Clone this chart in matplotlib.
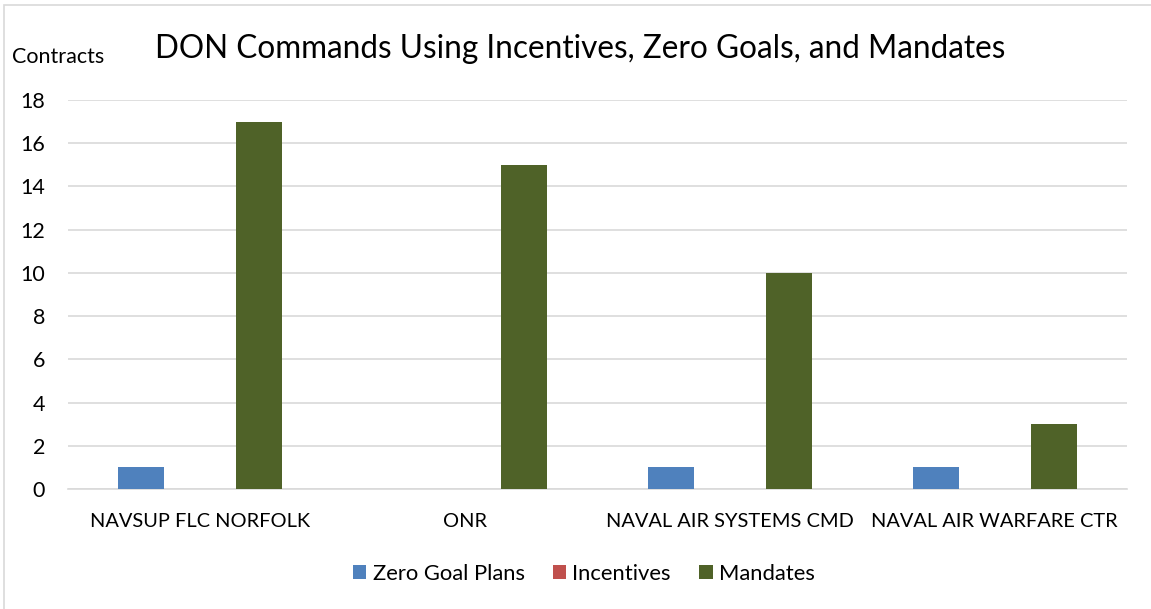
import numpy as np
import matplotlib
matplotlib.use('Agg')
import matplotlib.pyplot as plt
from matplotlib.patches import Rectangle

# ---- data ----
commands = ["NAVSUP FLC NORFOLK", "ONR", "NAVAL AIR SYSTEMS CMD", "NAVAL AIR WARFARE CTR"]
zero_goal = [1, 0, 1, 1]
incentives = [0, 0, 0, 0]
mandates = [17, 15, 10, 3]
series_names = ["Zero Goal Plans", "Incentives", "Mandates"]
series_colors = ["#4f81bd", "#c0504d", "#4f6228"]
yticks = [0, 2, 4, 6, 8, 10, 12, 14, 16, 18]

plt.rcParams['font.family'] = ['Lato', 'DejaVu Sans']

W, H = 1151, 609
fig = plt.figure(figsize=(W / 100, H / 100), dpi=100)

# light outer border (only left/top visible in the original)
fig.patches.append(Rectangle((4 / W, -0.1), 1.2, 1 - 5 / H + 0.1, transform=fig.transFigure,
                             fill=False, edgecolor="#d9d9d9", lw=1.2))

ax = fig.add_axes([68 / W, 1 - 489 / H, (1127 - 68) / W, (489 - 100) / H])

x = np.arange(len(commands))
offset = 0.223
width = 0.174
for i, (vals, name, col) in enumerate(zip([zero_goal, incentives, mandates], series_names, series_colors)):
    ax.bar(x + (i - 1) * offset, vals, width=width, color=col, label=name, zorder=3)

ax.set_xlim(-0.5, len(commands) - 0.5)
ax.set_ylim(0, 18)
ax.set_yticks(yticks)
ax.set_yticklabels([str(v) for v in yticks], fontsize=15.5)
ax.set_xticks(x)
ax.set_xticklabels(commands, fontsize=14.4)
ax.tick_params(axis='both', length=0, colors='black')
ax.tick_params(axis='y', pad=16.5)
ax.tick_params(axis='x', pad=17)
ax.grid(axis='y', color='#d9d9d9', lw=1.2, zorder=0)
for s in ['top', 'right', 'left']:
    ax.spines[s].set_visible(False)
ax.spines['bottom'].set_color('#d9d9d9')
ax.spines['bottom'].set_linewidth(1.2)

fig.text(580 / W, 1 - 48.5 / H, "DON Commands Using Incentives, Zero Goals, and Mandates",
         ha='center', va='center', fontsize=22.7)
fig.text(12 / W, 1 - 57 / H, "Contracts", ha='left', va='center', fontsize=15.5)

fig.legend(loc='center', bbox_to_anchor=(584 / W, 1 - 574 / H), ncol=3, frameon=False,
           fontsize=15.8, handlelength=0.6, handleheight=0.6, handletextpad=0.28, columnspacing=1.3)

fig.savefig("out.png", dpi=100)
